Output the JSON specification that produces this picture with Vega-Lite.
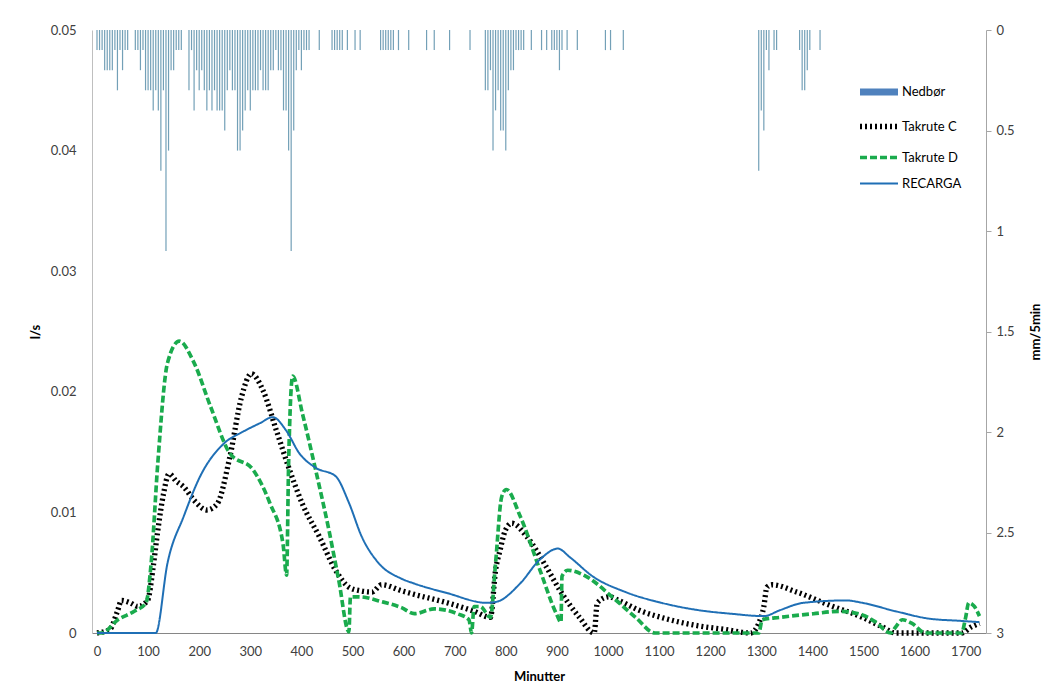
{
  "$schema": "https://vega.github.io/schema/vega-lite/v6.json",
  "width": 894,
  "height": 603,
  "autosize": {"type": "none"},
  "padding": {"left": 92, "top": 30, "right": 72, "bottom": 55},
  "background": "white",
  "config": {
    "view": {"stroke": null},
    "font": "Lato",
    "axis": {"grid": false, "labelFont": "Lato", "titleFont": "Lato", "labelFontSize": 13, "labelColor": "#404040", "titleFontSize": 13, "titleFontWeight": "bold", "titleColor": "#000000"}
  },
  "datasets": {
    "rain": [
      {"t":0,"mm":0.1},{"t":5,"mm":0.1},{"t":10,"mm":0.1},{"t":15,"mm":0.2},{"t":20,"mm":0.2},{"t":25,"mm":0.2},{"t":30,"mm":0.2},{"t":35,"mm":0.1},{"t":40,"mm":0.3},{"t":45,"mm":0.1},{"t":50,"mm":0.2},{"t":55,"mm":0.1},{"t":60,"mm":0.1},
      {"t":75,"mm":0.1},{"t":80,"mm":0.1},{"t":85,"mm":0.2},{"t":90,"mm":0.1},{"t":95,"mm":0.3},{"t":100,"mm":0.3},{"t":105,"mm":0.3},{"t":110,"mm":0.4},{"t":115,"mm":0.3},{"t":120,"mm":0.4},{"t":125,"mm":0.7},{"t":130,"mm":0.3},{"t":135,"mm":1.1},{"t":140,"mm":0.6},{"t":145,"mm":0.2},{"t":150,"mm":0.2},{"t":155,"mm":0.1},{"t":160,"mm":0.1},{"t":165,"mm":0.1},
      {"t":180,"mm":0.3},{"t":185,"mm":0.1},{"t":190,"mm":0.4},{"t":195,"mm":0.2},{"t":200,"mm":0.3},{"t":205,"mm":0.2},{"t":210,"mm":0.3},{"t":215,"mm":0.4},{"t":220,"mm":0.3},{"t":225,"mm":0.4},{"t":230,"mm":0.3},{"t":235,"mm":0.4},{"t":240,"mm":0.4},{"t":245,"mm":0.4},{"t":250,"mm":0.5},{"t":255,"mm":0.3},{"t":260,"mm":0.2},{"t":265,"mm":0.3},{"t":270,"mm":0.3},{"t":275,"mm":0.6},{"t":280,"mm":0.6},{"t":285,"mm":0.5},{"t":290,"mm":0.4},{"t":295,"mm":0.3},{"t":300,"mm":0.4},{"t":305,"mm":0.3},{"t":310,"mm":0.3},{"t":315,"mm":0.3},{"t":320,"mm":0.2},{"t":325,"mm":0.3},{"t":330,"mm":0.3},{"t":335,"mm":0.3},{"t":340,"mm":0.2},{"t":345,"mm":0.2},{"t":350,"mm":0.1},{"t":355,"mm":0.2},{"t":360,"mm":0.2},{"t":365,"mm":0.4},{"t":370,"mm":0.4},{"t":375,"mm":0.6},{"t":380,"mm":1.1},{"t":385,"mm":0.5},{"t":390,"mm":0.2},{"t":395,"mm":0.1},{"t":400,"mm":0.2},{"t":405,"mm":0.1},{"t":410,"mm":0.1},{"t":415,"mm":0.1},
      {"t":435,"mm":0.1},
      {"t":460,"mm":0.1},{"t":465,"mm":0.1},{"t":470,"mm":0.1},{"t":475,"mm":0.1},{"t":480,"mm":0.1},{"t":490,"mm":0.1},{"t":505,"mm":0.1},{"t":515,"mm":0.1},
      {"t":555,"mm":0.1},{"t":560,"mm":0.1},{"t":565,"mm":0.1},{"t":570,"mm":0.1},{"t":575,"mm":0.1},{"t":580,"mm":0.1},{"t":590,"mm":0.1},{"t":610,"mm":0.1},
      {"t":645,"mm":0.1},{"t":660,"mm":0.1},{"t":690,"mm":0.1},{"t":730,"mm":0.1},
      {"t":760,"mm":0.3},{"t":765,"mm":0.3},{"t":770,"mm":0.2},{"t":775,"mm":0.6},{"t":780,"mm":0.4},{"t":785,"mm":0.3},{"t":790,"mm":0.5},{"t":795,"mm":0.5},{"t":800,"mm":0.6},{"t":805,"mm":0.3},{"t":810,"mm":0.2},{"t":815,"mm":0.2},{"t":820,"mm":0.1},{"t":825,"mm":0.1},{"t":830,"mm":0.1},{"t":835,"mm":0.1},{"t":850,"mm":0.1},
      {"t":870,"mm":0.1},{"t":880,"mm":0.1},{"t":890,"mm":0.1},{"t":895,"mm":0.1},{"t":900,"mm":0.1},{"t":905,"mm":0.2},{"t":910,"mm":0.1},{"t":920,"mm":0.1},{"t":940,"mm":0.1},
      {"t":995,"mm":0.1},{"t":1005,"mm":0.1},{"t":1030,"mm":0.1},
      {"t":1295,"mm":0.7},{"t":1300,"mm":0.4},{"t":1305,"mm":0.5},{"t":1310,"mm":0.1},{"t":1315,"mm":0.2},{"t":1325,"mm":0.1},{"t":1330,"mm":0.1},
      {"t":1375,"mm":0.1},{"t":1380,"mm":0.3},{"t":1385,"mm":0.3},{"t":1390,"mm":0.2},{"t":1395,"mm":0.1},{"t":1415,"mm":0.1}
    ],
    "flow": [
      {"s":"Takrute C","t":0,"v":0},{"s":"Takrute C","t":25,"v":0.0003},{"s":"Takrute C","t":40,"v":0.0018},{"s":"Takrute C","t":48,"v":0.0027},{"s":"Takrute C","t":65,"v":0.0025},{"s":"Takrute C","t":80,"v":0.0022},{"s":"Takrute C","t":99,"v":0.0027},{"s":"Takrute C","t":110,"v":0.0055},{"s":"Takrute C","t":119,"v":0.0085},{"s":"Takrute C","t":130,"v":0.0115},{"s":"Takrute C","t":141,"v":0.0132},{"s":"Takrute C","t":155,"v":0.0126},{"s":"Takrute C","t":170,"v":0.0121},{"s":"Takrute C","t":190,"v":0.011},{"s":"Takrute C","t":215,"v":0.0102},{"s":"Takrute C","t":235,"v":0.0107},{"s":"Takrute C","t":260,"v":0.0146},{"s":"Takrute C","t":283,"v":0.0196},{"s":"Takrute C","t":302,"v":0.0215},{"s":"Takrute C","t":325,"v":0.0201},{"s":"Takrute C","t":351,"v":0.0168},{"s":"Takrute C","t":377,"v":0.0135},{"s":"Takrute C","t":402,"v":0.0107},{"s":"Takrute C","t":435,"v":0.008},{"s":"Takrute C","t":467,"v":0.0052},{"s":"Takrute C","t":493,"v":0.0038},{"s":"Takrute C","t":515,"v":0.0035},{"s":"Takrute C","t":538,"v":0.0034},{"s":"Takrute C","t":557,"v":0.004},{"s":"Takrute C","t":596,"v":0.0035},{"s":"Takrute C","t":621,"v":0.0032},{"s":"Takrute C","t":686,"v":0.0025},{"s":"Takrute C","t":738,"v":0.0018},{"s":"Takrute C","t":770,"v":0.0013},{"s":"Takrute C","t":780,"v":0.0052},{"s":"Takrute C","t":789,"v":0.0069},{"s":"Takrute C","t":799,"v":0.0085},{"s":"Takrute C","t":812,"v":0.0091},{"s":"Takrute C","t":841,"v":0.008},{"s":"Takrute C","t":879,"v":0.0055},{"s":"Takrute C","t":905,"v":0.0036},{"s":"Takrute C","t":944,"v":0.0013},{"s":"Takrute C","t":973,"v":0},{"s":"Takrute C","t":979,"v":0.0025},{"s":"Takrute C","t":1002,"v":0.003},{"s":"Takrute C","t":1021,"v":0.0027},{"s":"Takrute C","t":1060,"v":0.0019},{"s":"Takrute C","t":1112,"v":0.0012},{"s":"Takrute C","t":1176,"v":0.0006},{"s":"Takrute C","t":1228,"v":0.0003},{"s":"Takrute C","t":1279,"v":0},{"s":"Takrute C","t":1295,"v":0.0008},{"s":"Takrute C","t":1305,"v":0.0022},{"s":"Takrute C","t":1311,"v":0.0038},{"s":"Takrute C","t":1321,"v":0.004},{"s":"Takrute C","t":1369,"v":0.0034},{"s":"Takrute C","t":1434,"v":0.0023},{"s":"Takrute C","t":1498,"v":0.0013},{"s":"Takrute C","t":1537,"v":0.0005},{"s":"Takrute C","t":1563,"v":0},{"s":"Takrute C","t":1692,"v":0},{"s":"Takrute C","t":1711,"v":0.0005},{"s":"Takrute C","t":1727,"v":0.0008},
      {"s":"Takrute D","t":0,"v":0},{"s":"Takrute D","t":9,"v":0},{"s":"Takrute D","t":41,"v":0.0011},{"s":"Takrute D","t":73,"v":0.0018},{"s":"Takrute D","t":96,"v":0.0025},{"s":"Takrute D","t":106,"v":0.0058},{"s":"Takrute D","t":119,"v":0.0141},{"s":"Takrute D","t":138,"v":0.0224},{"s":"Takrute D","t":161,"v":0.0242},{"s":"Takrute D","t":190,"v":0.0224},{"s":"Takrute D","t":222,"v":0.0188},{"s":"Takrute D","t":260,"v":0.0149},{"s":"Takrute D","t":306,"v":0.0135},{"s":"Takrute D","t":338,"v":0.0108},{"s":"Takrute D","t":364,"v":0.0074},{"s":"Takrute D","t":371,"v":0.0048},{"s":"Takrute D","t":375,"v":0.0141},{"s":"Takrute D","t":383,"v":0.0213},{"s":"Takrute D","t":402,"v":0.0182},{"s":"Takrute D","t":428,"v":0.0135},{"s":"Takrute D","t":454,"v":0.0085},{"s":"Takrute D","t":473,"v":0.0044},{"s":"Takrute D","t":493,"v":0.0001},{"s":"Takrute D","t":496,"v":0.003},{"s":"Takrute D","t":512,"v":0.003},{"s":"Takrute D","t":557,"v":0.0026},{"s":"Takrute D","t":596,"v":0.0021},{"s":"Takrute D","t":621,"v":0.0016},{"s":"Takrute D","t":660,"v":0.002},{"s":"Takrute D","t":705,"v":0.0016},{"s":"Takrute D","t":728,"v":0.0011},{"s":"Takrute D","t":733,"v":0},{"s":"Takrute D","t":738,"v":0.0022},{"s":"Takrute D","t":750,"v":0.0022},{"s":"Takrute D","t":770,"v":0.0013},{"s":"Takrute D","t":780,"v":0.0058},{"s":"Takrute D","t":792,"v":0.0113},{"s":"Takrute D","t":801,"v":0.0119},{"s":"Takrute D","t":828,"v":0.0097},{"s":"Takrute D","t":867,"v":0.0052},{"s":"Takrute D","t":899,"v":0.0016},{"s":"Takrute D","t":908,"v":0.0009},{"s":"Takrute D","t":910,"v":0.0047},{"s":"Takrute D","t":921,"v":0.0052},{"s":"Takrute D","t":957,"v":0.0047},{"s":"Takrute D","t":1008,"v":0.003},{"s":"Takrute D","t":1054,"v":0.0013},{"s":"Takrute D","t":1092,"v":0},{"s":"Takrute D","t":1295,"v":0},{"s":"Takrute D","t":1302,"v":0.0011},{"s":"Takrute D","t":1337,"v":0.0013},{"s":"Takrute D","t":1402,"v":0.0016},{"s":"Takrute D","t":1453,"v":0.0018},{"s":"Takrute D","t":1498,"v":0.0015},{"s":"Takrute D","t":1524,"v":0.0009},{"s":"Takrute D","t":1553,"v":0},{"s":"Takrute D","t":1563,"v":0.0005},{"s":"Takrute D","t":1576,"v":0.0011},{"s":"Takrute D","t":1595,"v":0.0008},{"s":"Takrute D","t":1621,"v":0},{"s":"Takrute D","t":1692,"v":0},{"s":"Takrute D","t":1700,"v":0.0013},{"s":"Takrute D","t":1706,"v":0.0025},{"s":"Takrute D","t":1717,"v":0.0022},{"s":"Takrute D","t":1727,"v":0.0014},
      {"s":"RECARGA","t":0,"v":0},{"s":"RECARGA","t":60,"v":0},{"s":"RECARGA","t":115,"v":0},{"s":"RECARGA","t":138,"v":0.0058},{"s":"RECARGA","t":170,"v":0.0097},{"s":"RECARGA","t":202,"v":0.013},{"s":"RECARGA","t":248,"v":0.0157},{"s":"RECARGA","t":286,"v":0.0167},{"s":"RECARGA","t":319,"v":0.0174},{"s":"RECARGA","t":344,"v":0.0179},{"s":"RECARGA","t":370,"v":0.0168},{"s":"RECARGA","t":396,"v":0.0149},{"s":"RECARGA","t":428,"v":0.0137},{"s":"RECARGA","t":467,"v":0.013},{"s":"RECARGA","t":493,"v":0.0108},{"s":"RECARGA","t":518,"v":0.008},{"s":"RECARGA","t":551,"v":0.0058},{"s":"RECARGA","t":596,"v":0.0045},{"s":"RECARGA","t":621,"v":0.0041},{"s":"RECARGA","t":686,"v":0.0033},{"s":"RECARGA","t":763,"v":0.0025},{"s":"RECARGA","t":783,"v":0.0026},{"s":"RECARGA","t":828,"v":0.0041},{"s":"RECARGA","t":867,"v":0.0061},{"s":"RECARGA","t":902,"v":0.007},{"s":"RECARGA","t":925,"v":0.0063},{"s":"RECARGA","t":970,"v":0.0047},{"s":"RECARGA","t":1034,"v":0.0034},{"s":"RECARGA","t":1105,"v":0.0025},{"s":"RECARGA","t":1176,"v":0.0019},{"s":"RECARGA","t":1240,"v":0.0016},{"s":"RECARGA","t":1305,"v":0.0014},{"s":"RECARGA","t":1337,"v":0.0019},{"s":"RECARGA","t":1382,"v":0.0025},{"s":"RECARGA","t":1466,"v":0.0027},{"s":"RECARGA","t":1498,"v":0.0025},{"s":"RECARGA","t":1563,"v":0.0018},{"s":"RECARGA","t":1627,"v":0.0012},{"s":"RECARGA","t":1692,"v":0.001},{"s":"RECARGA","t":1727,"v":0.0009}
    ]
  },
  "layer": [
    {
      "data": {"name": "rain"},
      "mark": {"type": "bar", "width": 1.2, "color": "#5A8FAA", "opacity": 0.85},
      "encoding": {
        "x": {"field": "t", "type": "quantitative", "scale": {"domain": [0, 1730], "nice": false, "zero": false},
              "axis": {"title": "Minutter", "values": [0,100,200,300,400,500,600,700,800,900,1000,1100,1200,1300,1400,1500,1600,1700], "format": "d", "ticks": false, "domainColor": "#868686", "labelPadding": 12, "titlePadding": 12}},
        "y": {"field": "mm", "type": "quantitative", "scale": {"domain": [0, 3], "reverse": true, "nice": false},
              "axis": {"orient": "right", "title": "mm/5min", "values": [0,0.5,1,1.5,2,2.5,3], "format": "~g", "ticks": true, "tickSize": 5, "tickColor": "#A6A6A6", "domainColor": "#A6A6A6", "labelPadding": 5, "titlePadding": 28, "titleAngle": 270}}
      }
    },
    {
      "data": {"name": "flow"},
      "mark": {"type": "line", "interpolate": "monotone", "strokeCap": "butt"},
      "encoding": {
        "x": {"field": "t", "type": "quantitative"},
        "y": {"field": "v", "type": "quantitative", "scale": {"domain": [0, 0.05], "nice": false},
              "axis": {"orient": "left", "title": "l/s", "values": [0,0.01,0.02,0.03,0.04,0.05], "format": "~g", "ticks": false, "domainColor": "#BFBFBF", "labelPadding": 16, "titlePadding": 8}},
        "color": {"field": "s", "type": "nominal", "scale": {"domain": ["Nedbør", "Takrute C", "Takrute D", "RECARGA"], "range": ["#4F81BD", "#000000", "#1AAB4D", "#1F6FB5"]},
                  "legend": {"title": null, "orient": "none", "legendX": 774, "legendY": 49, "symbolType": "M-2,0L2,0", "symbolSize": 361, "labelFont": "Lato", "labelFontSize": 13, "labelColor": "#000000", "labelOffset": 10, "rowPadding": 8, "padding": 0}},
        "strokeDash": {"field": "s", "type": "nominal", "scale": {"domain": ["Nedbør", "Takrute C", "Takrute D", "RECARGA"], "range": [[1, 0], [2, 3], [7, 3], [1, 0]]},
                  "legend": {"title": null, "orient": "none", "legendX": 774, "legendY": 49, "symbolType": "M-2,0L2,0", "symbolSize": 361, "labelFont": "Lato", "labelFontSize": 13, "labelColor": "#000000", "labelOffset": 10, "rowPadding": 8, "padding": 0}},
        "strokeWidth": {"field": "s", "type": "nominal", "scale": {"domain": ["Nedbør", "Takrute C", "Takrute D", "RECARGA"], "range": [7, 2, 2.6, 2.8]},
                  "legend": {"title": null, "orient": "none", "legendX": 774, "legendY": 49, "symbolType": "M-2,0L2,0", "symbolSize": 361, "labelFont": "Lato", "labelFontSize": 13, "labelColor": "#000000", "labelOffset": 10, "rowPadding": 8, "padding": 0}}
      }
    }
  ],
  "resolve": {"scale": {"y": "independent"}}
}
